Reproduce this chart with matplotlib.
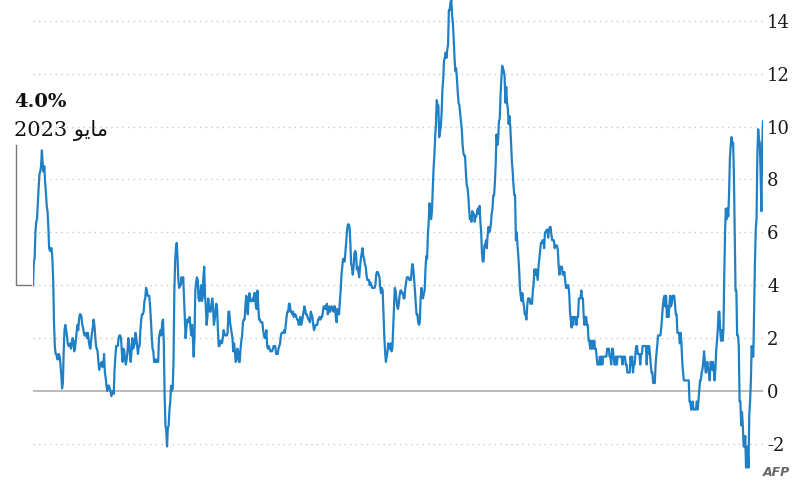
import numpy as np
import matplotlib
matplotlib.use("Agg")
import matplotlib.pyplot as plt
from matplotlib.transforms import blended_transform_factory

# US CPI, year-on-year change (%), monthly, Jan 1948 -> May 2023
cpi_1940s = [10.2, 9.3, 6.8, 8.3, 9.4, 9.5, 9.9, 8.9, 6.5, 6.1, 4.8, 3.0,
             1.3, 1.3, 1.7, 0.4, -0.4, -0.9, -2.9, -2.1, -2.5, -2.9, -1.7, -2.1]
cpi_1950s = [-2.1, -1.3, -0.8, -1.3, -0.4, -0.4, 1.7, 2.1, 2.1, 3.8, 3.8, 5.9,
             8.1, 9.4, 9.3, 9.6, 9.3, 8.8, 7.5, 6.6, 6.9, 6.5, 6.9, 6.0,
             4.3, 2.3, 1.9, 2.3, 1.9, 2.3, 3.0, 3.0, 2.3, 1.9, 1.5, 0.8,
             0.4, 0.8, 1.1, 0.8, 1.1, 1.1, 0.4, 0.8, 0.8, 1.1, 0.7, 0.7,
             1.1, 1.5, 1.1, 0.8, 0.7, 0.4, 0.4, 0.0, -0.4, -0.7, -0.4, -0.7,
             -0.7, -0.7, -0.7, -0.4, -0.7, -0.7, -0.4, -0.4, 0.4, 0.4, 0.4, 0.4,
             0.4, 0.4, 0.4, 0.7, 1.1, 1.8, 2.2, 1.8, 2.2, 2.2, 2.2, 2.9,
             2.9, 3.3, 3.6, 3.6, 3.6, 3.3, 3.2, 3.6, 3.2, 2.8, 3.2, 2.8,
             3.6, 3.2, 3.6, 3.5, 3.2, 2.8, 2.4, 2.1, 2.1, 2.1, 2.1, 1.7,
             1.4, 1.0, 0.3, 0.3, 0.3, 0.7, 0.7, 1.0, 1.4, 1.7, 1.4, 1.7]
cpi_1960s = [1.0, 1.7, 1.7, 1.7, 1.7, 1.7, 1.4, 1.4, 1.0, 1.4, 1.4, 1.4,
             1.7, 1.7, 1.4, 1.0, 1.0, 0.7, 1.3, 1.0, 1.3, 0.7, 0.7, 0.7,
             0.7, 1.0, 1.0, 1.3, 1.3, 1.3, 1.0, 1.3, 1.3, 1.3, 1.3, 1.3,
             1.3, 1.0, 1.3, 1.0, 1.0, 1.3, 1.6, 1.6, 1.0, 1.3, 1.3, 1.6,
             1.6, 1.6, 1.3, 1.3, 1.3, 1.3, 1.3, 1.0, 1.3, 1.0, 1.3, 1.0,
             1.0, 1.0, 1.3, 1.6, 1.6, 1.9, 1.6, 1.9, 1.6, 1.9, 1.6, 1.9,
             1.9, 2.5, 2.5, 2.8, 2.8, 2.5, 2.8, 3.5, 3.5, 3.8, 3.5, 3.5,
             3.5, 2.8, 2.8, 2.5, 2.8, 2.8, 2.8, 2.5, 2.8, 2.4, 2.7, 3.0,
             3.7, 4.0, 4.0, 3.9, 3.9, 4.2, 4.5, 4.4, 4.4, 4.7, 4.7, 4.7,
             4.4, 4.7, 5.3, 5.5, 5.5, 5.5, 5.4, 5.7, 5.7, 5.7, 5.9, 6.2]
cpi_1970s = [6.2, 6.1, 5.8, 6.1, 6.1, 6.0, 6.0, 5.4, 5.7, 5.7, 5.6, 5.6,
             5.3, 5.0, 4.7, 4.2, 4.4, 4.6, 4.4, 4.6, 4.1, 3.8, 3.3, 3.3,
             3.3, 3.5, 3.5, 3.5, 3.2, 2.7, 2.9, 2.9, 3.2, 3.4, 3.7, 3.4,
             3.6, 3.9, 4.6, 5.1, 5.5, 6.0, 5.7, 7.4, 7.4, 7.8, 8.3, 8.7,
             9.4, 10.0, 10.4, 10.1, 10.7, 10.9, 11.5, 10.9, 11.9, 12.1, 12.2, 12.3,
             11.8, 11.2, 10.3, 10.2, 9.5, 9.3, 9.7, 8.6, 7.9, 7.4, 7.4, 6.9,
             6.7, 6.3, 6.1, 6.0, 6.2, 5.9, 5.4, 5.7, 5.5, 5.5, 4.9, 4.9,
             5.2, 6.0, 6.4, 7.0, 6.7, 6.9, 6.8, 6.6, 6.6, 6.4, 6.7, 6.7,
             6.8, 6.4, 6.6, 6.5, 6.9, 7.4, 7.7, 7.8, 8.3, 8.9, 8.9, 9.0,
             9.3, 9.9, 10.2, 10.5, 10.8, 10.9, 11.3, 11.8, 12.2, 12.1, 12.6, 13.3]
cpi_1980s = [13.9, 14.2, 14.8, 14.7, 14.4, 14.4, 13.1, 12.9, 12.6, 12.8, 12.6, 12.5,
             11.8, 11.4, 10.5, 10.0, 9.8, 9.6, 10.8, 10.8, 11.0, 10.1, 9.6, 8.9,
             8.4, 7.6, 6.8, 6.5, 6.7, 7.1, 6.4, 5.9, 5.0, 5.1, 4.6, 3.8,
             3.7, 3.5, 3.6, 3.9, 3.5, 2.6, 2.5, 2.6, 2.9, 2.9, 3.3, 3.8,
             4.2, 4.6, 4.8, 4.6, 4.2, 4.2, 4.2, 4.3, 4.3, 4.3, 4.1, 3.9,
             3.5, 3.5, 3.7, 3.7, 3.8, 3.8, 3.6, 3.3, 3.1, 3.2, 3.5, 3.8,
             3.9, 3.1, 2.2, 1.6, 1.5, 1.8, 1.6, 1.6, 1.8, 1.5, 1.3, 1.1,
             1.5, 2.1, 3.0, 3.8, 3.9, 3.7, 3.9, 4.3, 4.4, 4.5, 4.5, 4.4,
             4.0, 3.9, 3.9, 3.9, 3.9, 4.0, 4.1, 4.0, 4.2, 4.2, 4.2, 4.4,
             4.7, 4.8, 5.0, 5.1, 5.4, 5.2, 5.0, 4.7, 4.3, 4.5, 4.7, 4.6]
cpi_1990s = [5.2, 5.3, 5.2, 4.7, 4.4, 4.7, 4.8, 5.6, 6.2, 6.3, 6.3, 6.1,
             5.7, 5.3, 4.9, 4.9, 5.0, 4.7, 4.4, 3.8, 3.4, 2.9, 3.0, 3.1,
             2.6, 2.8, 3.2, 3.2, 3.0, 3.1, 3.2, 3.1, 3.0, 3.2, 3.0, 2.9,
             3.3, 3.2, 3.1, 3.2, 3.2, 3.0, 2.8, 2.8, 2.7, 2.8, 2.7, 2.7,
             2.5, 2.5, 2.5, 2.4, 2.3, 2.5, 2.8, 2.9, 3.0, 2.6, 2.7, 2.7,
             2.8, 2.9, 2.9, 3.1, 3.2, 3.0, 2.8, 2.6, 2.5, 2.8, 2.6, 2.5,
             2.7, 2.7, 2.8, 2.9, 2.9, 2.8, 3.0, 2.9, 3.0, 3.0, 3.3, 3.3,
             3.0, 3.0, 2.8, 2.5, 2.2, 2.3, 2.2, 2.2, 2.2, 2.1, 1.8, 1.7,
             1.6, 1.4, 1.4, 1.4, 1.7, 1.7, 1.7, 1.6, 1.5, 1.5, 1.5, 1.6,
             1.7, 1.6, 1.7, 2.3, 2.1, 2.0, 2.1, 2.3, 2.6, 2.6, 2.6, 2.7]
cpi_2000s = [2.7, 3.2, 3.8, 3.1, 3.2, 3.7, 3.7, 3.4, 3.5, 3.4, 3.4, 3.4,
             3.7, 3.5, 2.9, 3.3, 3.6, 3.2, 2.7, 2.7, 2.6, 2.1, 1.9, 1.6,
             1.1, 1.1, 1.5, 1.6, 1.2, 1.1, 1.5, 1.8, 1.5, 2.0, 2.2, 2.4,
             2.6, 3.0, 3.0, 2.2, 2.1, 2.1, 2.1, 2.2, 2.3, 2.0, 1.8, 1.9,
             1.9, 1.7, 1.7, 2.3, 3.1, 3.3, 3.0, 2.7, 2.5, 3.2, 3.5, 3.3,
             3.0, 3.0, 3.1, 3.5, 2.8, 2.5, 3.2, 3.6, 4.7, 4.3, 3.5, 3.4,
             4.0, 3.6, 3.4, 3.5, 4.2, 4.3, 4.1, 3.8, 2.1, 1.3, 2.0, 2.5,
             2.1, 2.4, 2.8, 2.6, 2.7, 2.7, 2.4, 2.0, 2.8, 3.5, 4.3, 4.1,
             4.3, 4.0, 4.0, 3.9, 4.2, 5.0, 5.6, 5.4, 4.9, 3.7, 1.1, 0.1,
             0.0, 0.2, -0.4, -0.7, -1.3, -1.4, -2.1, -1.5, -1.3, -0.2, 1.8, 2.7]
cpi_2010s = [2.6, 2.1, 2.3, 2.2, 2.0, 1.1, 1.2, 1.1, 1.1, 1.2, 1.1, 1.5,
             1.6, 2.1, 2.7, 3.2, 3.6, 3.6, 3.6, 3.8, 3.9, 3.5, 3.4, 3.0,
             2.9, 2.9, 2.7, 2.3, 1.7, 1.7, 1.4, 1.7, 2.0, 2.2, 1.8, 1.7,
             1.6, 2.0, 1.5, 1.1, 1.4, 1.8, 2.0, 1.5, 1.2, 1.0, 1.2, 1.5,
             1.6, 1.1, 1.5, 2.0, 2.1, 2.1, 2.0, 1.7, 1.7, 1.7, 1.3, 0.8,
             -0.1, 0.0, -0.1, -0.2, 0.0, 0.1, 0.2, 0.2, 0.0, 0.2, 0.5, 0.7,
             1.4, 1.0, 0.9, 1.1, 1.0, 1.0, 0.8, 1.1, 1.5, 1.6, 1.7, 2.1,
             2.5, 2.7, 2.4, 2.2, 1.9, 1.6, 1.7, 1.9, 2.2, 2.0, 2.2, 2.1,
             2.1, 2.2, 2.4, 2.5, 2.8, 2.9, 2.9, 2.7, 2.3, 2.5, 2.2, 1.9,
             1.6, 1.5, 1.9, 2.0, 1.8, 1.6, 1.8, 1.7, 1.7, 1.8, 2.1, 2.3]
cpi_2020s = [2.5, 2.3, 1.5, 0.3, 0.1, 0.6, 1.0, 1.3, 1.4, 1.2, 1.2, 1.4,
             1.4, 1.7, 2.6, 4.2, 5.0, 5.4, 5.4, 5.3, 5.4, 6.2, 6.8, 7.0,
             7.5, 7.9, 8.5, 8.3, 8.6, 9.1, 8.5, 8.3, 8.2, 7.7, 7.1, 6.5,
             6.4, 6.0, 5.0, 4.9, 4.0]

yticks = [-2, 0, 2, 4, 6, 8, 10, 12, 14]
label_value = "4.0%"
label_date = "2023 " + "\uFEEE\uFEF3\uFE8E\uFEE3"  # "مايو" shaped for left-to-right drawing

values = np.array(cpi_1940s + cpi_1950s + cpi_1960s + cpi_1970s + cpi_1980s
                  + cpi_1990s + cpi_2000s + cpi_2010s + cpi_2020s)
months = 1948 + np.arange(len(values)) / 12.0

fig = plt.figure(figsize=(8, 4.84), dpi=100)
ax = fig.add_axes([33 / 800, 0.0283, 730 / 800, 0.9833])

blue = "#1f80c6"
ax.plot(months, values, color=blue, linewidth=1.6, solid_joinstyle="round")

ax.set_xlim(months[-1], months[0])
ax.set_ylim(-3, 15)

for t in yticks:
    if t == 0:
        ax.axhline(0, color="#b5b5b5", linewidth=1.3, zorder=0)
    else:
        ax.axhline(t, color="#c9c9c9", linewidth=1.0, linestyle=(0, (1, 3)), zorder=0)

ax.yaxis.tick_right()
ax.set_yticks(yticks)
ax.set_yticklabels([str(t) for t in yticks], fontfamily="DejaVu Serif",
                   fontsize=13, color="#1a1a1a")
ax.tick_params(axis="y", length=0, pad=3)
ax.set_xticks([])
for s in ax.spines.values():
    s.set_visible(False)

# bracket pointing at the latest value
trans = blended_transform_factory(fig.transFigure, ax.transData)
ax.plot([16 / 800, 16 / 800, 31 / 800], [9.3, values[-1], values[-1]],
        color="#777777", linewidth=1.0, transform=trans, clip_on=False)

fig.text(14 / 800, 1 - 107 / 484, label_value, fontfamily="DejaVu Serif",
         fontweight="bold", fontsize=14, color="#111111", va="baseline")
fig.text(14 / 800, 1 - 136 / 484, label_date, family=["DejaVu Serif", "DejaVu Sans"],
         fontsize=15, color="#111111", va="baseline")

fig.text(790 / 800, 1 - 476 / 484, "AFP", fontsize=9, fontstyle="italic",
         fontweight="bold", color="#666666", ha="right", va="baseline")

fig.savefig("out.png", dpi=100)
